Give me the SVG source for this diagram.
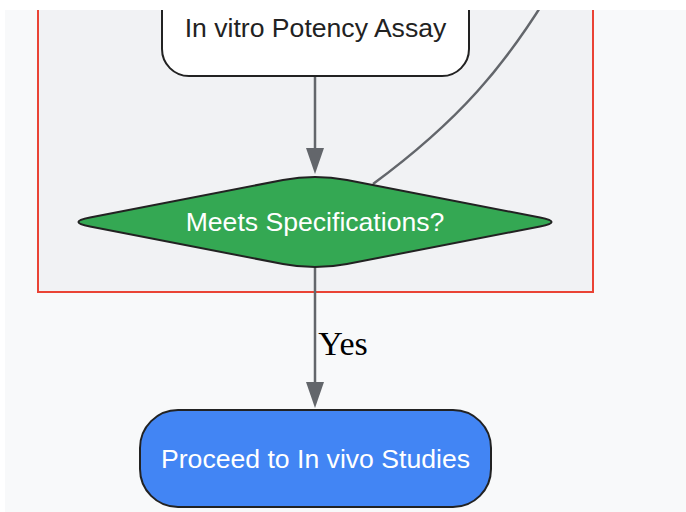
<svg xmlns="http://www.w3.org/2000/svg" width="686" height="512" viewBox="0 0 686 512">
<style>
.node-text{font-family:"Liberation Sans",Arial,sans-serif;font-size:26.6px;text-anchor:middle;dominant-baseline:central}
.edge{fill:none;stroke:#63666b;stroke-width:2.5}
.nodebox{stroke:#222222;stroke-width:2}
.arrowhead{fill:#63666b}
</style>
<rect x="0" y="0" width="686" height="512" fill="#ffffff"/>
<rect x="5" y="10" width="681" height="502" fill="#f8f9fa"/>
<g id="cluster">
<rect x="38" y="-10" width="555" height="302" fill="#f1f2f4" stroke="#ea4335" stroke-width="2"/>
</g>
<g id="connectors">
<path class="edge" d="M373,184 C460,120 505,65 548,-5"/>
<line class="edge" x1="315" y1="77" x2="315" y2="150"/>
<path class="arrowhead" d="M306,148 L324,148 L315,174 Z"/>
<line class="edge" x1="315" y1="268" x2="315" y2="384"/>
<path class="arrowhead" d="M306,382 L324,382 L315,408 Z"/>
<text x="343" y="343" font-family="'Liberation Serif','Times New Roman',serif" font-size="34" text-anchor="middle" dominant-baseline="central" fill="#000000">Yes</text>
</g>
<g id="node-decision">
<path class="nodebox" fill="#34a853" d="M283,180 Q315,173.8 347,180 L540,217.5 Q563.2,222 540,226.5 L347,264 Q315,270.2 283,264 L90,226.5 Q66.8,222 90,217.5 Z"/>
<text class="node-text" x="315" y="222" fill="#ffffff">Meets Specifications?</text>
</g>
<g id="node-potency">
<rect class="nodebox" x="162" y="-30" width="307" height="106" rx="27" ry="27" fill="#ffffff"/>
<text class="node-text" x="315.5" y="28" fill="#222222">In vitro Potency Assay</text>
</g>
<g id="node-invivo">
<rect class="nodebox" x="140" y="410" width="351" height="97" rx="38" ry="38" fill="#4285f4"/>
<text class="node-text" x="315.5" y="459" fill="#ffffff">Proceed to In vivo Studies</text>
</g>
<rect x="0" y="0" width="686" height="10" fill="#ffffff"/>
<rect x="0" y="0" width="5" height="512" fill="#ffffff"/>
</svg>
